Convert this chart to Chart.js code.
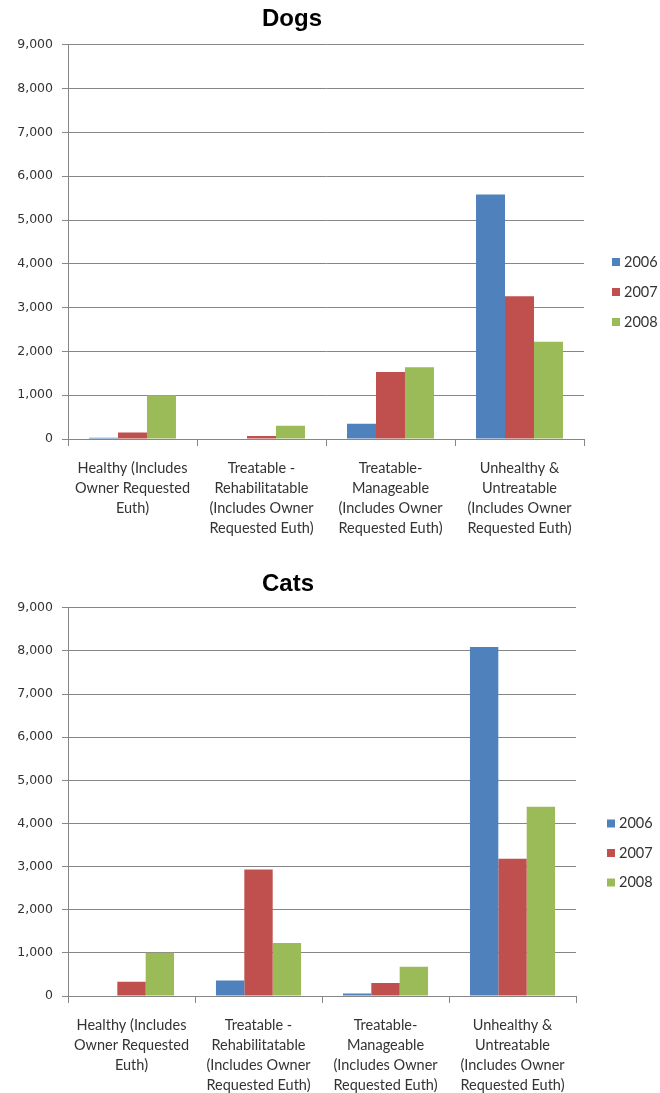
<!DOCTYPE html>
<html>
<head>
<meta charset="utf-8">
<script src="https://cdn.jsdelivr.net/npm/chart.js@4.4.1/dist/chart.umd.min.js"></script>
<style>
  html, body { margin: 0; padding: 0; background: #fff; overflow: hidden; }
  .chart-box { position: absolute; left: 0; width: 660px; }
</style>
</head>
<body>
<div class="chart-box" style="top:0"><canvas id="dogs-chart" width="660" height="550"></canvas></div>
<div class="chart-box" style="top:560px"><canvas id="cats-chart" width="660" height="533"></canvas></div>
<script>
// categories (x-axis, multi-line)
const categories = [
  ["Healthy (Includes", "Owner Requested", "Euth)"],
  ["Treatable -", "Rehabilitatable", "(Includes Owner", "Requested Euth)"],
  ["Treatable-", "Manageable", "(Includes Owner", "Requested Euth)"],
  ["Unhealthy &", "Untreatable", "(Includes Owner", "Requested Euth)"],
];
const years = ["2006", "2007", "2008"];

// dogs
const dogs2006 = [30, 0, 350, 5580];
const dogs2007 = [150, 70, 1530, 3260];
const dogs2008 = [1000, 300, 1640, 2220];

// cats
const cats2006 = [0, 360, 60, 8090];
const cats2007 = [330, 2930, 300, 3180];
const cats2008 = [1000, 1230, 680, 4390];

// y axis
const yMin = 0;
const yMax = 9000;
const yStep = 1000;

const yearColors = ["#4F81BD", "#C0504D", "#9BBB59"];
const gridGray = "#868686";
const textGray = "#333333";

// legend drawn at the right side of the plot, like the excel one
const sideLegend = {
  id: "sideLegend",
  afterDraw(chart, args, opts) {
    const ctx = chart.ctx;
    const sets = chart.data.datasets;
    const x = chart.chartArea.right + opts.offsetX;
    const startY = opts.centerY - ((sets.length - 1) * opts.rowGap) / 2;
    ctx.save();
    ctx.font = "14.5px Lato";
    ctx.textBaseline = "middle";
    ctx.textAlign = "left";
    sets.forEach((ds, i) => {
      const y = startY + i * opts.rowGap;
      ctx.fillStyle = ds.backgroundColor;
      ctx.fillRect(x, y - 4, 8, 8);
      ctx.fillStyle = textGray;
      ctx.fillText(ds.label, x + 12, y);
    });
    ctx.restore();
  },
};

function makeChart(canvasId, title, series, cfg) {
  const datasets = series.map((vals, i) => ({
    label: years[i],
    data: vals,
    backgroundColor: yearColors[i],
    borderWidth: 0,
    categoryPercentage: cfg.groupPct,
    barPercentage: 1.0,
  }));

  return new Chart(document.getElementById(canvasId), {
    type: "bar",
    data: { labels: categories, datasets: datasets },
    plugins: [sideLegend],
    options: {
      responsive: false,
      animation: false,
      layout: { padding: { left: 0, right: cfg.padRight, top: 0, bottom: 0 } },
      plugins: {
        legend: { display: false },
        tooltip: { enabled: false },
        title: {
          display: true,
          text: title,
          color: "#000",
          font: { family: "Liberation Sans", size: 24, weight: "bold" },
          padding: { top: cfg.titleTop, bottom: cfg.titleBottom },
        },
        sideLegend: { offsetX: cfg.legendX, centerY: cfg.legendY, rowGap: cfg.legendGap },
      },
      scales: {
        x: {
          afterFit: (scale) => { scale.height = cfg.xHeight; },
          grid: {
            display: true,
            drawOnChartArea: false,
            drawTicks: true,
            tickLength: 7,
            color: gridGray,
            offset: true,
          },
          border: { display: true, color: gridGray },
          ticks: {
            color: textGray,
            autoSkip: false,
            maxRotation: 0,
            minRotation: 0,
            padding: 12,
            font: { family: "Lato", size: 14.5, lineHeight: 20 / 14.5 },
          },
        },
        y: {
          min: yMin,
          max: yMax,
          afterFit: (scale) => { scale.width = 68; },
          grid: { color: gridGray, tickLength: 6 },
          border: { display: true, color: gridGray },
          ticks: {
            stepSize: yStep,
            color: textGray,
            padding: 9,
            font: { family: "DejaVu Sans", size: 12.5 },
            callback: (v) => v.toLocaleString("en-US"),
          },
        },
      },
    },
  });
}

makeChart("dogs-chart", "Dogs", [dogs2006, dogs2007, dogs2008], {
  groupPct: 0.674,
  padRight: 76,
  titleTop: 5,
  titleBottom: 11,
  xHeight: 111,
  legendX: 28,
  legendY: 292,
  legendGap: 30,
});

makeChart("cats-chart", "Cats", [cats2006, cats2007, cats2008], {
  groupPct: 0.67,
  padRight: 84,
  titleTop: 10,
  titleBottom: 9,
  xHeight: 97,
  legendX: 31,
  legendY: 293,
  legendGap: 29.5,
});
</script>
</body>
</html>
